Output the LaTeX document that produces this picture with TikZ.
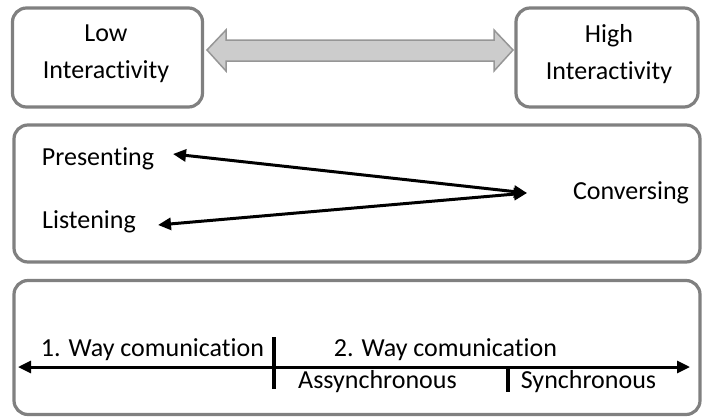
\documentclass[tikz,border=0pt]{standalone}
\usepackage{fontspec}
\setmainfont[Ligatures=NoCommon]{Carlito}
\usetikzlibrary{arrows.meta}
\definecolor{boxgray}{RGB}{128,128,128}
\definecolor{arrfill}{RGB}{204,204,204}
\definecolor{arrline}{RGB}{150,150,150}
\begin{document}
\begin{tikzpicture}[x=1pt,y=-1pt,
  panel/.style={draw=boxgray,line width=3.2pt,rounded corners=14pt,fill=white,inner sep=0pt},
  lbl/.style={font=\fontsize{26}{37}\selectfont,inner sep=0pt,align=center},
  blkboth/.style={line width=3pt,{Triangle[length=13pt,width=12pt]}-{Triangle[length=13pt,width=12pt]}},
  tick/.style={line width=3.5pt}]
\useasboundingbox (0,0) rectangle (704,418);
% top boxes
\node[panel,minimum width=190pt,minimum height=99pt] (low) at (107.5,57.5) {};
\node[panel,minimum width=182pt,minimum height=99pt] (high) at (607,57.5) {};
\node[lbl] (lowt) at (106,54) {Low\\Interactivity};
\node[lbl] (hight) at (609,54) {High\\Interactivity};
% double arrow
\draw[draw=arrline,fill=arrfill,line width=1.5pt,line join=miter]
  (207,50) -- (226,30) -- (226,40) -- (494,40) -- (494,30) -- (513,50)
  -- (494,71) -- (494,61) -- (226,61) -- (226,71) -- cycle;
% middle box
\node[panel,minimum width=686pt,minimum height=137pt] (mid) at (357,193.5) {};
\node[lbl] (pres) at (98,159) {Presenting};
\node[lbl] (list) at (89,222) {Listening};
\node[lbl] (conv) at (631,193) {Conversing};
\coordinate (ctip) at (527,193);
\coordinate (ptip) at (173,154);
\coordinate (ltip) at (158,225);
\draw[blkboth] (ptip) -- (ctip);
\draw[blkboth] (ltip) -- (ctip);
% bottom box
\node[panel,minimum width=686pt,minimum height=134pt] (bot) at (357,347.5) {};
\coordinate (al) at (18,367);
\coordinate (ar) at (690,367);
\draw[blkboth] (al) -- (ar);
\coordinate (t1a) at (274,337);
\coordinate (t1b) at (274,389);
\coordinate (t2a) at (508,366);
\coordinate (t2b) at (508,392);
\draw[tick] (t1a) -- (t1b);
\draw[tick] (t2a) -- (t2b);
\node[lbl] (w1) at (152.5,350) {1. Way comunication};
\node[lbl] (w2) at (445.5,350) {2. Way comunication};
\node[lbl] (asy) at (377.5,382) {Assynchronous};
\node[lbl] (syn) at (588.5,382) {Synchronous};
\end{tikzpicture}
\end{document}
